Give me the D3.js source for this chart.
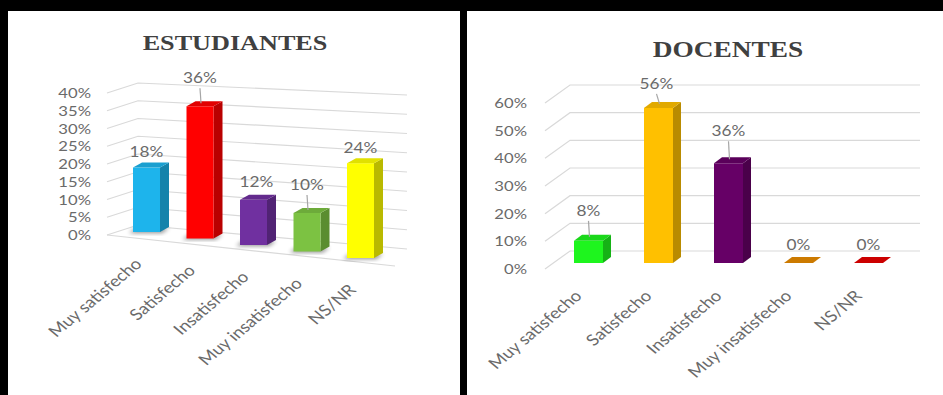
<!DOCTYPE html>
<html>
<head>
<meta charset="utf-8">
<script src="https://cdn.jsdelivr.net/npm/d3@7"></script>
<style>
  html, body { margin: 0; padding: 0; background: #000; }
  svg { display: block; }
</style>
</head>
<body>
<svg id="chart" width="943" height="395"></svg>
<script>
// Satisfaction survey: students vs. teachers
const categories = ["Muy satisfecho", "Satisfecho", "Insatisfecho", "Muy insatisfecho", "NS/NR"];

const estudiantesValues = [18, 36, 12, 10, 24];
const estudiantesTicks = [0, 5, 10, 15, 20, 25, 30, 35, 40];
const estudiantesColors = ["#1db4ec", "#ff0000", "#7030a0", "#7cc242", "#ffff00"];

const docentesValues = [8, 56, 36, 0, 0];
const docentesTicks = [0, 10, 20, 30, 40, 50, 60];
const docentesColors = ["#1ef51e", "#ffc000", "#660066", "#cc7a00", "#cc0000"];

const pct = v => v + "%";
const SX = 1.19;               // horizontal text stretch
const TEXT = "#6a6a6a";
const GRID = "#d9d9d9";

const svg = d3.select("#chart");

// frame: black surround with two white panels
svg.append("rect").attr("width", 943).attr("height", 395).attr("fill", "#000");
svg.append("rect").attr("x", 8).attr("y", 11).attr("width", 452).attr("height", 384).attr("fill", "#fff");
svg.append("rect").attr("x", 467).attr("y", 11).attr("width", 476).attr("height", 384).attr("fill", "#fff");

const defs = svg.append("defs");
defs.append("filter").attr("id", "soft").attr("x", "-50%").attr("y", "-50%").attr("width", "200%").attr("height", "200%")
  .append("feGaussianBlur").attr("stdDeviation", 2.2);

function shade(c, k) { return d3.color(c).darker(k).formatHex(); }

function stretchedText(g, str, x, y, o = {}) {
  return g.append("text")
    .attr("transform", `translate(${x},${y}) scale(${o.sx || SX},1) rotate(${o.rot || 0})`)
    .attr("text-anchor", o.anchor || "middle")
    .attr("font-family", o.family || "Lato, 'Open Sans', sans-serif")
    .attr("font-size", o.size || 14)
    .attr("font-weight", o.weight || "normal")
    .attr("fill", o.fill || TEXT)
    .text(str);
}

// Draw one 3-D column chart.
// cfg supplies the wall geometry (through linear scales) and bar placement.
function drawChart(cfg) {
  const g = svg.append("g");
  const vmax = d3.max(cfg.ticks);

  // title
  stretchedText(g, cfg.title, cfg.titleX, cfg.titleY, {
    family: "'Liberation Serif', 'Times New Roman', serif", size: cfg.titleSize, weight: "bold", fill: "#404040"
  });

  // wall scales
  const backLeftY = d3.scaleLinear().domain([0, vmax]).range(cfg.backLeftY);
  const backRightY = d3.scaleLinear().domain([0, vmax]).range(cfg.backRightY);
  const frontY = d3.scaleLinear().domain([0, vmax]).range(cfg.frontY);

  // gridlines: side wall segment + back wall line
  cfg.ticks.forEach(t => {
    g.append("path")
      .attr("d", d3.line()([
        [cfg.frontX, frontY(t)],
        [cfg.backX[0], backLeftY(t)],
        [cfg.backX[1], backRightY(t)]
      ]))
      .attr("fill", "none").attr("stroke", GRID).attr("stroke-width", 1.2);
    stretchedText(g, pct(t), cfg.tickLabelX, frontY(t) + 5, { anchor: "end", size: 14 });
  });

  if (cfg.floorFront) {
    g.append("path")
      .attr("d", d3.line()([[cfg.frontX, frontY(0)], cfg.floorFront]))
      .attr("fill", "none").attr("stroke", GRID).attr("stroke-width", 1.2);
  }

  // bar scales
  const n = cfg.values.length;
  const xBar = d3.scaleLinear().domain([0, n - 1]).range(cfg.barX);
  const baseY = d3.scaleLinear().domain([0, n - 1]).range(cfg.barBaseY);
  const pxPerUnit = d3.scaleLinear().domain([0, n - 1]).range(cfg.barK);
  const w = cfg.barW, dx = cfg.depth[0], dy = cfg.depth[1];

  cfg.values.forEach((v, i) => {
    const yScale = d3.scaleLinear().domain([0, vmax]).range([baseY(i), baseY(i) - vmax * pxPerUnit(i)]);
    const x0 = xBar(i), x1 = x0 + w, yb = yScale(0), yt = yScale(v);
    const col = cfg.colors[i];

    // soft ground shadow
    if (cfg.shadow) {
      g.append("path")
        .attr("d", d3.line()([[x0 - 4, yb + 1], [x1 + 2, yb + 1], [x1 + dx, yb + dy + 1], [x0 + dx - 6, yb + dy + 1]]) + "Z")
        .attr("fill", "#000").attr("opacity", 0.45).attr("filter", "url(#soft)");
    }

    // right side face
    g.append("path")
      .attr("d", d3.line()([[x1, yb], [x1 + dx, yb + dy], [x1 + dx, yt + dy], [x1, yt]]) + "Z")
      .attr("fill", shade(col, 0.9));
    // front face
    if (v > 0) {
      g.append("rect").attr("x", x0).attr("y", yt).attr("width", w).attr("height", yb - yt).attr("fill", col);
    }
    // top face
    g.append("path")
      .attr("d", d3.line()([[x0, yt], [x1, yt], [x1 + dx, yt + dy], [x0 + dx, yt + dy]]) + "Z")
      .attr("fill", v > 0 ? shade(col, 0.35) : col);

    // value label (lifted with a leader line where it would crowd)
    const lift = cfg.labelLift[i];
    const cx = x0 + w / 2 + cfg.labelShift[i];
    const ly = yt + dy - lift;
    stretchedText(g, pct(v), cx, ly, { size: 14.5 });
    if (lift > 12) {
      g.append("line")
        .attr("x1", cx).attr("y1", ly + 5)
        .attr("x2", x0 + w / 2 + 1).attr("y2", yt + dy + 2)
        .attr("stroke", "#a6a6a6").attr("stroke-width", 1.2);
    }

    // category label
    stretchedText(g, categories[i], x0 + cfg.catOffset[0], yb + cfg.catOffset[1], {
      anchor: "end", rot: -45, size: 15.5
    });
  });
}

drawChart({
  title: "ESTUDIANTES", titleX: 235, titleY: 50, titleSize: 22,
  ticks: estudiantesTicks, values: estudiantesValues, colors: estudiantesColors,
  frontX: 107, backX: [138, 407],
  frontY: [235, 93], backLeftY: [225, 83], backRightY: [249, 95],
  floorFront: [395, 266],
  tickLabelX: 91,
  barX: [133, 347], barBaseY: [232, 258], barK: [3.58, 3.95], barW: 27, depth: [9, -5],
  labelLift: [6, 18, 8, 18, 5], labelShift: [0, 0, 3, 0, 0],
  catOffset: [10, 33], shadow: true
});

drawChart({
  title: "DOCENTES", titleX: 728, titleY: 57, titleSize: 23,
  ticks: docentesTicks, values: docentesValues, colors: docentesColors,
  frontX: 545, backX: [570, 920],
  frontY: [269, 103], backLeftY: [251, 85], backRightY: [251, 85],
  floorFront: null,
  tickLabelX: 527,
  barX: [574, 854], barBaseY: [263, 263], barK: [2.77, 2.77], barW: 29, depth: [8, -6],
  labelLift: [19, 13, 21, 7, 7], labelShift: [0, -2, 0, 0, 0],
  catOffset: [9, 34], shadow: false
});
</script>
</body>
</html>
